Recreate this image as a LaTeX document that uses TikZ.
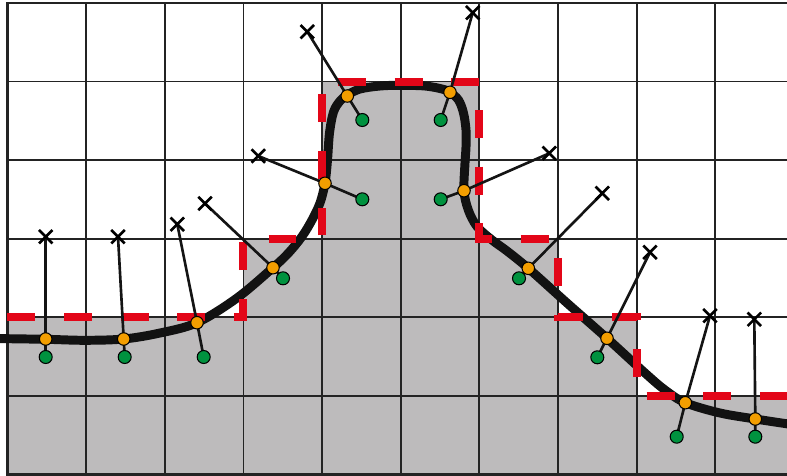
\documentclass[tikz,border=0pt]{standalone}
\usetikzlibrary{shapes.misc}
\definecolor{cellgrey}{RGB}{189,187,188}
\definecolor{bred}{RGB}{227,6,24}
\definecolor{ptorange}{RGB}{243,158,0}
\definecolor{ptgreen}{RGB}{0,146,63}
\definecolor{gridc}{RGB}{35,35,35}
\pgfdeclarelayer{bg}
\pgfdeclarelayer{lines}
\pgfsetlayers{bg,lines,main}
\begin{document}
\begin{tikzpicture}[x=0.02cm,y=-0.02cm,
  orangept/.style={circle,draw=black,line width=0.6pt,fill=ptorange,minimum size=0.25cm,inner sep=0pt},
  greenpt/.style={circle,draw=black,line width=0.6pt,fill=ptgreen,minimum size=0.26cm,inner sep=0pt},
  xmark/.style={cross out,draw=black,line width=1.5pt,minimum size=0.27cm,inner sep=0pt,outer sep=0pt},
  gridline/.style={draw=gridc,line width=1pt},
  borderline/.style={draw=gridc,line width=1.5pt},
  cellfill/.style={fill=cellgrey},
  boundary/.style={draw=bred,line width=4.5pt,dash pattern=on 15.87pt off 16.36pt},
  curveline/.style={draw=black!93,line width=5.1pt,line cap=round},
  connector/.style={draw=black!92,line width=1.5pt}]
\useasboundingbox (0,0) rectangle (787,476);
\clip (0,0) rectangle (787,476);
% points on the curve
\node[orangept] (o1) at (45.7,339) {};
\node[orangept] (o2) at (123.7,339) {};
\node[orangept] (o3) at (197,322.7) {};
\node[orangept] (o4) at (273,267.7) {};
\node[orangept] (o5) at (325,183.3) {};
\node[orangept] (o6) at (347.3,96) {};
\node[orangept] (o7) at (450,92.3) {};
\node[orangept] (o8) at (464,190.7) {};
\node[orangept] (o9) at (528.3,268.3) {};
\node[orangept] (o10) at (607,338.3) {};
\node[orangept] (o11) at (685.3,402.7) {};
\node[orangept] (o12) at (755.3,419) {};
% inner points
\node[greenpt] (g1) at (45.7,357) {};
\node[greenpt] (g2) at (124.7,357) {};
\node[greenpt] (g3) at (203.7,357) {};
\node[greenpt] (g4) at (283,278.3) {};
\node[greenpt] (g5) at (362.3,199.3) {};
\node[greenpt] (g6) at (362.3,120) {};
\node[greenpt] (g7) at (440.7,120) {};
\node[greenpt] (g8) at (440.7,199.3) {};
\node[greenpt] (g9) at (519,278.3) {};
\node[greenpt] (g10) at (597.3,357.3) {};
\node[greenpt] (g11) at (676.7,436.7) {};
\node[greenpt] (g12) at (755.3,436.7) {};
% outer marks
\node[xmark] (x1) at (45.7,236.7) {};
\node[xmark] (x2) at (118,236.7) {};
\node[xmark] (x3) at (177.3,224.3) {};
\node[xmark] (x4) at (205,203.5) {};
\node[xmark] (x5) at (258.3,156) {};
\node[xmark] (x6) at (307.3,31.7) {};
\node[xmark] (x7) at (472.7,12.7) {};
\node[xmark] (x8) at (549.3,153.3) {};
\node[xmark] (x9) at (602.3,193.3) {};
\node[xmark] (x10) at (650,252.3) {};
\node[xmark] (x11) at (710,315.7) {};
\node[xmark] (x12) at (754.3,319.3) {};
\begin{pgfonlayer}{lines}
\foreach \k in {1,...,12}
  \draw[connector] (x\k.center) -- (o\k.center) -- (g\k.center);
\end{pgfonlayer}
\begin{pgfonlayer}{bg}
\fill[cellfill] (7.4,474.3) -- (7.4,317.2) -- (243.4,317.2) -- (243.4,238.65) -- (322,238.65)
  -- (322,81.55) -- (479.4,81.55) -- (479.4,238.65) -- (558,238.65) -- (558,317.2)
  -- (636.7,317.2) -- (636.7,395.75) -- (790,395.75) -- (790,474.3) -- cycle;
\foreach \i in {1,...,9}
  \draw[gridline] ({7.4+78.66*\i},3) -- ({7.4+78.66*\i},474.3);
\foreach \j in {1,...,5}
  \draw[gridline] (7.4,{3+78.55*\j}) -- (790,{3+78.55*\j});
\draw[borderline] (790,3) -- (7.4,3) -- (7.4,474.3) -- (790,474.3);
\draw[curveline] plot[smooth,tension=0.55] coordinates {
  (-8,338.5) (0,338.6) (45.7,339.3) (85,340.3) (123.7,339) (160,333) (197,322.7)
  (237,298) (273,267.7) (288.5,253) (302,236.5) (312,220) (320,203) (325,183.3)
  (327.5,160) (329.5,133)
  (333.5,112) (340,101) (347.3,95) (360,89) (380,86) (400,85.3) (425,86) (442,89)
  (450,92.3) (458.5,100) (463.5,113) (466,130) (466,147) (465,163) (464,190.7) (468.3,210)
  (477,226.5) (492,240) (507,251) (528.3,268.3) (567,303) (607,338.3) (645,373)
  (665,390) (685.3,402.7) (720,413) (755.3,419) (795,425)};
\draw[boundary] (7.4,317.2) -- (243.4,317.2) -- (243.4,238.65) -- (322,238.65)
  -- (322,81.55) -- (479.4,81.55) -- (479.4,238.65) -- (558,238.65) -- (558,317.2)
  -- (636.7,317.2) -- (636.7,395.75) -- (795,395.75);
\end{pgfonlayer}
\end{tikzpicture}
\end{document}
